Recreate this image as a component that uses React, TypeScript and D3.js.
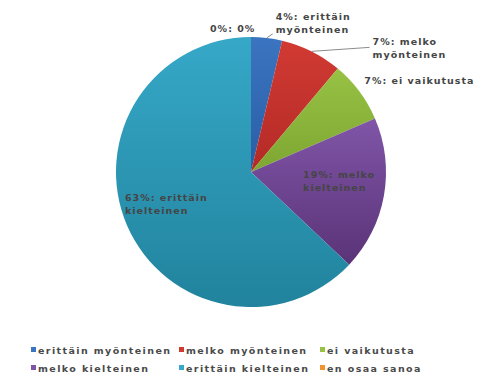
import React from "react";
import * as d3 from "d3";

// ---- data ----
const categories = [
  "erittäin myönteinen",
  "melko myönteinen",
  "ei vaikutusta",
  "melko kielteinen",
  "erittäin kielteinen",
  "en osaa sanoa",
];
const counts = [1, 2, 2, 5, 17, 0];
const labelLines = [
  ["4%: erittäin", "myönteinen"],
  ["7%: melko", "myönteinen"],
  ["7%: ei vaikutusta"],
  ["19%: melko", "kielteinen"],
  ["63%: erittäin", "kielteinen"],
  ["0%: 0%"],
];

// ---- styling / layout ----
const W = 477;
const H = 383;
const colorsTop = ["#3b74c0", "#d13a33", "#97c244", "#8055a8", "#36a8c8", "#f0932f"];
const colorsBottom = ["#2a5ea6", "#b42a26", "#7ea632", "#5a3377", "#21839d", "#d97a1c"];
const CX = 251;
const CY = 172;
const R = 135;
// label placement: [radius factor, dx, dy] relative to point on slice mid-angle
const labelPlace: [number, number, number][] = [
  [1, 9, -18],
  [1, 61, -6],
  [1, 5, -7],
  [0.67, -37, -10],
  [0.67, -43, -7],
  [1, -41, -5],
];
// leader line end offset (dy from first baseline), null = no leader
const leaderDy: (number | null)[] = [14, 2, null, null, null, null];
const legendCols = [31, 179, 320];
const legendRows = [350, 368];
const FONT = "'DejaVu Sans', Verdana, sans-serif";

export default function App() {
  const pie = d3
    .pie<number>()
    .sort(null)
    .value((d) => d)
    .startAngle(0)
    .endAngle(2 * Math.PI);
  const arcs = pie(counts);
  const arc = d3.arc<d3.PieArcDatum<number>>().innerRadius(0).outerRadius(R);

  const pt = (a: number, r: number) => [CX + r * Math.sin(a), CY - r * Math.cos(a)];

  return (
    <svg
      width={W}
      height={H}
      style={{ position: "absolute", left: 0, top: 0, background: "#fff" }}
      fontFamily={FONT}
    >
      <defs>
        {colorsTop.map((c, i) => (
          <linearGradient key={i} id={`g${i}`} x1="0" y1="0" x2="0" y2="1">
            <stop offset="0%" stopColor={c} />
            <stop offset="100%" stopColor={colorsBottom[i]} />
          </linearGradient>
        ))}
      </defs>
      <g transform={`translate(${CX},${CY})`}>
        {arcs.map((a, i) =>
          a.endAngle - a.startAngle > 0 ? (
            <path key={i} d={arc(a) || ""} fill={`url(#g${i})`} />
          ) : null
        )}
      </g>
      {arcs.map((a, i) => {
        const mid = (a.startAngle + a.endAngle) / 2;
        const [rf, dx, dy] = labelPlace[i];
        const [px, py] = pt(mid, R * rf);
        const x = px + dx;
        const y = py + dy;
        const lines = labelLines[i];
        const ld = leaderDy[i];
        return (
          <g key={i}>
            {ld !== null && (
              <line
                x1={pt(mid, R)[0]}
                y1={pt(mid, R)[1]}
                x2={x - 3}
                y2={y + ld}
                stroke="#8c8c8c"
                strokeWidth={1}
              />
            )}
            <text
              x={x}
              y={y}
              fontSize={9.5}
              fontWeight="bold"
              letterSpacing={1}
              fill="#454545"
            >
              {lines.map((l, j) => (
                <tspan key={j} x={x} dy={j === 0 ? 0 : 13}>
                  {l}
                </tspan>
              ))}
            </text>
          </g>
        );
      })}
      {categories.map((c, i) => {
        const x = legendCols[i % 3];
        const y = legendRows[Math.floor(i / 3)];
        return (
          <g key={c}>
            <rect x={x} y={y - 3} width={5} height={5} fill={colorsTop[i]} />
            <text
              x={x + 7}
              y={y + 3.5}
              fontSize={9.5}
              fontWeight="bold"
              letterSpacing={1.4}
              fill="#4a4a4a"
            >
              {c}
            </text>
          </g>
        );
      })}
    </svg>
  );
}
